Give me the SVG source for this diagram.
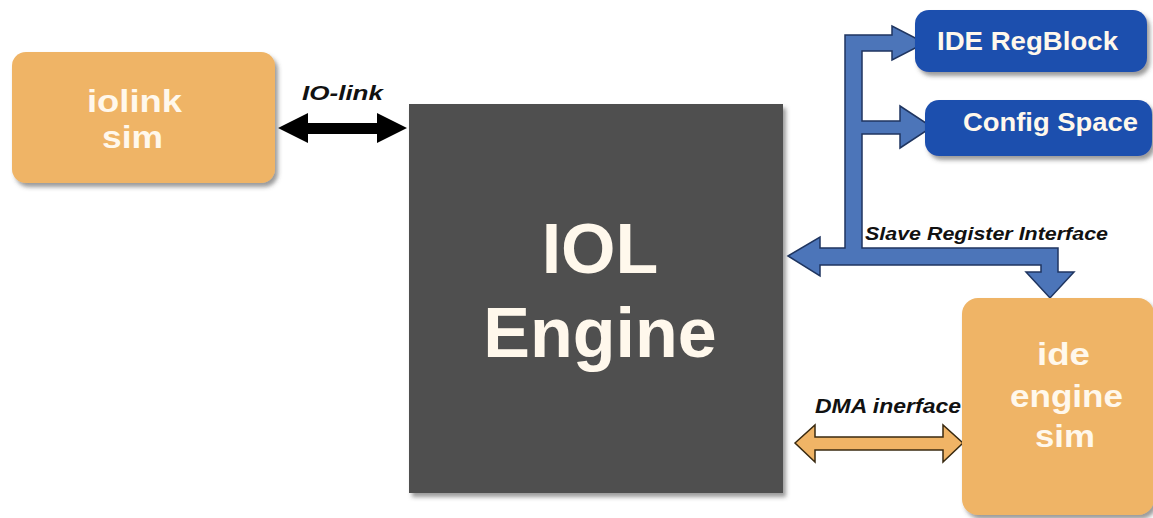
<svg xmlns="http://www.w3.org/2000/svg" width="1153" height="518" viewBox="0 0 1153 518">
  <defs>
    <filter id="shadow" x="-10%" y="-10%" width="130%" height="130%">
      <feDropShadow dx="3" dy="4" stdDeviation="2" flood-color="#4a4a4a" flood-opacity="0.55"/>
    </filter>
    <style>
      .sim { fill: #efb466; filter: url(#shadow); }
      .reg { fill: #1f4fae; filter: url(#shadow); }
      .core { fill: #505050; filter: url(#shadow); }
      .label-w { font-family: "Liberation Sans", Arial, sans-serif; font-weight: bold; fill: #fff8ec; }
      .label-k { font-family: "Liberation Sans", Arial, sans-serif; font-weight: bold; font-style: italic; fill: #111111; }
      .bus { fill: #4c75b9; stroke: #1f3560; stroke-width: 1.5; stroke-linejoin: miter; }
      .dma { fill: #f0b466; stroke: #3a2a10; stroke-width: 1.5; }
      .link { fill: #000000; }
    </style>
  </defs>

  <rect width="1153" height="518" fill="#ffffff"/>

  <!-- connectors -->
  <g id="connectors">
    <!-- IO-link double arrow -->
    <polygon class="link" points="278,128 308,113 308,123 377,123 377,113 407,128 377,143 377,134 308,134 308,143"/>
    <!-- slave register bus -->
    <polygon class="bus" points="788,256 820,237 820,248 845,248 845,35 892,35 892,26 925,43 892,60 892,51 862,51 862,121 900,121 900,106 932,127 900,148 900,134 862,134 862,248 1058,248 1058,272 1074,272 1050,298 1026,272 1041,272 1041,265 820,265 820,276"/>
    <!-- DMA double arrow -->
    <polygon class="dma" points="795,443 815,425 815,437 943,437 943,425 963,443 943,462 943,450 815,450 815,462"/>
    <text class="label-k" x="302" y="100" font-size="21" textLength="81" lengthAdjust="spacingAndGlyphs">IO-link</text>
    <text class="label-k" x="865" y="240" font-size="18" textLength="243" lengthAdjust="spacingAndGlyphs">Slave Register Interface</text>
    <text class="label-k" x="815" y="413" font-size="21" textLength="146" lengthAdjust="spacingAndGlyphs">DMA inerface</text>
  </g>

  <g id="iolink-sim">
    <rect class="sim" x="12" y="52" width="263" height="131" rx="14"/>
    <text class="label-w" x="87" y="112" font-size="31" textLength="95" lengthAdjust="spacingAndGlyphs">iolink</text>
    <text class="label-w" x="102" y="148" font-size="31" textLength="61" lengthAdjust="spacingAndGlyphs">sim</text>
  </g>

  <g id="iol-engine">
    <rect class="core" x="409" y="104" width="374" height="389"/>
    <text class="label-w" x="600" y="273" font-size="70" text-anchor="middle">IOL</text>
    <text class="label-w" x="600" y="357" font-size="70" text-anchor="middle">Engine</text>
  </g>

  <g id="ide-regblock">
    <rect class="reg" x="915" y="10" width="232" height="62" rx="14"/>
    <text class="label-w" x="937" y="50" font-size="25" textLength="181" lengthAdjust="spacingAndGlyphs">IDE RegBlock</text>
  </g>

  <g id="config-space">
    <rect class="reg" x="925" y="100" width="227" height="56" rx="14"/>
    <text class="label-w" x="963" y="131" font-size="26" textLength="175" lengthAdjust="spacingAndGlyphs">Config Space</text>
  </g>

  <g id="ide-engine-sim">
    <rect class="sim" x="962" y="298" width="192" height="217" rx="16"/>
    <text class="label-w" x="1037" y="365" font-size="31" textLength="53" lengthAdjust="spacingAndGlyphs">ide</text>
    <text class="label-w" x="1010" y="407" font-size="31" textLength="113" lengthAdjust="spacingAndGlyphs">engine</text>
    <text class="label-w" x="1035" y="447" font-size="31" textLength="60" lengthAdjust="spacingAndGlyphs">sim</text>
  </g>
</svg>
